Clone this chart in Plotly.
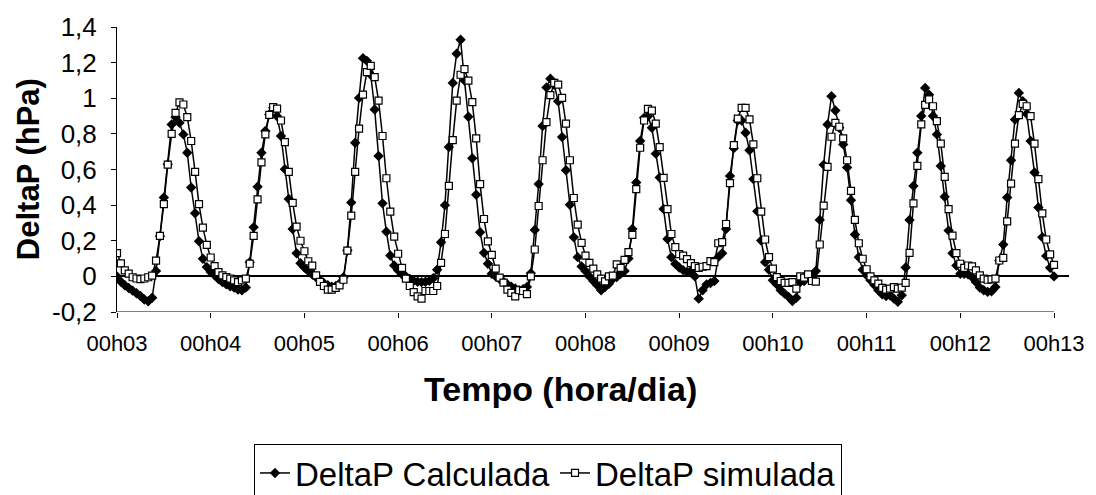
import plotly.graph_objects as go

# Hourly pressure differences (hPa), one row per day
calculada = [
    0.0, -0.03, -0.05, -0.065, -0.08, -0.095, -0.11, -0.13, -0.14, -0.12, 0.03, 0.225, 0.443, 0.63, 0.853, 0.894, 0.862, 0.797, 0.694, 0.499, 0.354, 0.197, 0.099, 0.052,
    0.024, 0.006, -0.015, -0.032, -0.045, -0.056, -0.063, -0.074, -0.078, -0.063, 0.08, 0.276, 0.503, 0.694, 0.816, 0.909, 0.946, 0.899, 0.788, 0.602, 0.434, 0.266, 0.13, 0.074,
    0.05, 0.03, 0.012, -0.005, -0.022, -0.038, -0.05, -0.058, -0.055, -0.04, -0.005, 0.145, 0.415, 0.75, 1.002, 1.225, 1.21, 1.132, 0.937, 0.676, 0.41, 0.251, 0.117, 0.061,
    0.034, 0.011, 0.0, -0.015, -0.025, -0.03, -0.032, -0.03, -0.025, -0.01, 0.037, 0.192, 0.4, 0.726, 1.086, 1.25, 1.328, 1.1, 0.896, 0.663, 0.458, 0.248, 0.132, 0.071,
    0.015, 0.0, -0.015, -0.03, -0.045, -0.058, -0.068, -0.078, -0.072, -0.06, 0.018, 0.261, 0.518, 0.844, 1.061, 1.11, 1.076, 0.983, 0.782, 0.596, 0.402, 0.22, 0.108, 0.056,
    0.03, 0.0, -0.026, -0.05, -0.078, -0.06, -0.041, -0.013, -0.004, 0.015, 0.03, 0.1, 0.266, 0.527, 0.76, 0.89, 0.899, 0.834, 0.689, 0.555, 0.378, 0.21, 0.108, 0.07,
    0.05, 0.035, 0.025, 0.03, 0.0, -0.125, -0.078, -0.045, -0.037, -0.026, 0.108, 0.13, 0.266, 0.564, 0.72, 0.875, 0.875, 0.806, 0.708, 0.546, 0.365, 0.201, 0.08, 0.037,
    -0.022, -0.045, -0.078, -0.097, -0.115, -0.138, -0.12, -0.032, -0.026, 0.0, 0.0, 0.03, 0.317, 0.626, 0.853, 1.011, 0.931, 0.834, 0.741, 0.611, 0.428, 0.235, 0.108, 0.037,
    0.006, -0.022, -0.048, -0.078, -0.1, -0.11, -0.106, -0.125, -0.143, -0.106, 0.05, 0.317, 0.508, 0.694, 0.9, 1.058, 1.02, 0.9, 0.797, 0.62, 0.447, 0.257, 0.13, 0.061,
    0.015, 0.015, 0.011, -0.004, -0.032, -0.063, -0.078, -0.087, -0.084, -0.06, 0.089, 0.179, 0.443, 0.652, 0.881, 1.03, 0.983, 0.912, 0.76, 0.583, 0.387, 0.22, 0.115, 0.048,
    0.0,
]

simulada = [
    0.13, 0.073, 0.034, 0.015, -0.005, -0.012, -0.015, -0.012, -0.005, 0.004, 0.088, 0.227, 0.406, 0.627, 0.80, 0.918, 0.977, 0.965, 0.894, 0.76, 0.587, 0.406, 0.274, 0.177,
    0.106, 0.058, 0.024, 0.006, -0.004, -0.013, -0.022, -0.032, -0.022, -0.013, 0.071, 0.227, 0.432, 0.64, 0.797, 0.907, 0.95, 0.942, 0.875, 0.754, 0.587, 0.413, 0.279, 0.20,
    0.141, 0.085, 0.06, 0.006, -0.031, -0.054, -0.074, -0.074, -0.065, -0.05, -0.019, 0.145, 0.341, 0.587, 0.829, 1.02, 1.147, 1.182, 1.119, 0.987, 0.788, 0.551, 0.363, 0.223,
    0.127, 0.048, -0.013, -0.054, -0.088, -0.112, -0.125, -0.082, -0.082, -0.082, -0.054, 0.076, 0.238, 0.508, 0.765, 0.987, 1.132, 1.164, 1.099, 0.978, 0.775, 0.518, 0.322, 0.197,
    0.121, 0.043, -0.007, -0.035, -0.074, -0.093, -0.112, -0.078, -0.082, -0.1, 0.0, 0.151, 0.395, 0.652, 0.866, 1.017, 1.086, 1.076, 1.002, 0.857, 0.652, 0.44, 0.29, 0.188,
    0.117, 0.076, 0.043, 0.011, -0.013, -0.028, 0.0, 0.004, 0.067, 0.048, 0.093, 0.136, 0.233, 0.49, 0.722, 0.875, 0.94, 0.931, 0.858, 0.726, 0.553, 0.378, 0.238, 0.164,
    0.125, 0.117, 0.097, 0.074, 0.058, 0.048, 0.054, 0.058, 0.086, 0.08, 0.186, 0.192, 0.294, 0.523, 0.737, 0.886, 0.946, 0.946, 0.881, 0.741, 0.551, 0.363, 0.207, 0.108,
    0.043, -0.004, -0.026, -0.037, -0.037, -0.032, -0.069, 0.0, -0.007, 0.011, -0.026, -0.03, 0.179, 0.397, 0.615, 0.784, 0.862, 0.84, 0.775, 0.652, 0.48, 0.317, 0.186, 0.099,
    0.04, 0.0, -0.022, -0.041, -0.065, -0.074, -0.069, -0.06, -0.069, -0.063, -0.037, 0.132, 0.41, 0.62, 0.853, 0.963, 0.993, 0.955, 0.872, 0.745, 0.559, 0.378, 0.229, 0.13,
    0.071, 0.048, 0.061, 0.056, 0.034, 0.006, -0.013, -0.019, -0.017, -0.013, 0.089, 0.104, 0.309, 0.521, 0.745, 0.905, 0.968, 0.955, 0.9, 0.745, 0.546, 0.354, 0.207, 0.123,
    0.065,
]

# Time axis: hourly samples, expressed in days since 00h03
hours = list(range(len(calculada)))
days = [h / 24 for h in hours]

day_labels = ["00h03", "00h04", "00h05", "00h06", "00h07", "00h08",
              "00h09", "00h10", "00h11", "00h12", "00h13"]
y_ticks = [-0.2, 0, 0.2, 0.4, 0.6, 0.8, 1, 1.2, 1.4]
y_tick_text = ["-0,2", "0", "0,2", "0,4", "0,6", "0,8", "1", "1,2", "1,4"]

FONT = "Arial, Liberation Sans, sans-serif"

fig = go.Figure()
fig.add_trace(go.Scatter(
    x=days, y=calculada, name="DeltaP Calculada", mode="lines+markers",
    line=dict(color="black", width=1.5),
    marker=dict(symbol="diamond", size=8, color="black"),
))
fig.add_trace(go.Scatter(
    x=days, y=simulada, name="DeltaP simulada", mode="lines+markers",
    line=dict(color="black", width=1.5),
    marker=dict(symbol="square", size=7, color="white",
                line=dict(color="black", width=1.2)),
))

n_days = len(day_labels) - 1
fig.update_layout(
    width=1096, height=495,
    margin=dict(l=117, r=20, t=24, b=183),
    paper_bgcolor="white", plot_bgcolor="white",
    font=dict(family=FONT, color="black"),
    showlegend=True,
    legend=dict(
        orientation="h", xref="container", yref="container",
        x=0.5, xanchor="center", y=1 - 444 / 495, yanchor="top",
        bordercolor="black", borderwidth=1, bgcolor="white",
        font=dict(size=33, family=FONT), itemwidth=30,
    ),
    xaxis=dict(
        range=[0, 10.16], tickvals=list(range(len(day_labels))), ticktext=day_labels,
        showgrid=False, zeroline=False, showline=False,
        ticks="outside", ticklen=5, tickcolor="black", tickwidth=1,
        tickfont=dict(size=22, family=FONT), ticklabelstandoff=7,
    ),
    yaxis=dict(
        range=[-0.2, 1.4], tickvals=y_ticks, ticktext=y_tick_text,
        showgrid=False, zeroline=True, zerolinecolor="black", zerolinewidth=1.5,
        showline=True, linecolor="black", linewidth=1,
        ticks="outside", ticklen=5, tickcolor="black", tickwidth=1,
        tickfont=dict(size=26, family=FONT), ticklabelstandoff=9,
    ),
    shapes=[dict(
        type="line", xref="x", yref="y", x0=0, x1=n_days, y0=-0.2, y1=-0.2,
        line=dict(color="#808080", width=2), layer="below",
    )],
    annotations=[
        dict(text="<b>DeltaP (hPa)</b>", xref="paper", yref="paper",
             x=(28 - 117) / 959, y=0.5, textangle=-90, showarrow=False,
             font=dict(size=31, family=FONT), xanchor="center", yanchor="middle"),
        dict(text="<b>Tempo (hora/dia)</b>", xref="paper", yref="paper",
             x=(564 - 117) / 959, y=(312 - 390) / 288, showarrow=False,
             font=dict(size=34, family=FONT), xanchor="center", yanchor="middle"),
    ],
)

fig.write_html("out.html")
